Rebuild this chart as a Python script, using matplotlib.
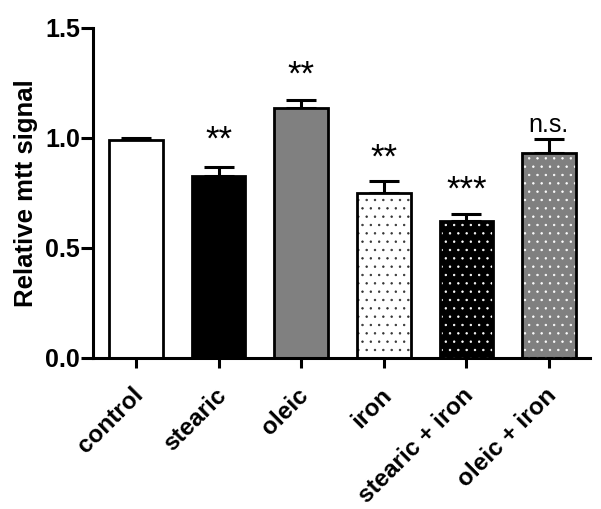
import matplotlib
matplotlib.use('Agg')
import matplotlib.pyplot as plt
import matplotlib.transforms as mtransforms

plt.rcParams['font.family'] = ['Liberation Sans', 'DejaVu Sans']
plt.rcParams['hatch.linewidth'] = 0.5

groups = ['control', 'stearic', 'oleic', 'iron', 'stearic + iron', 'oleic + iron']
means = [0.99, 0.825, 1.135, 0.75, 0.62, 0.932]
errors = [0.01, 0.045, 0.037, 0.052, 0.032, 0.063]
signif = ['', '**', '**', '**', '***', 'n.s.']
sig_y = [None, 0.99, 1.285, 0.91, 0.765, 1.06]

face_colors = ['white', 'black', '#808080', 'white', 'black', '#808080']
dot_colors = [None, None, None, '#333333', 'white', 'white']

fig = plt.figure(figsize=(6.01, 5.09), dpi=100)
ax = fig.add_axes([0.155, 0.297, 0.827, 0.648])

x = list(range(len(groups)))
w = 0.65
ax.bar(x, means, width=w, color=face_colors, edgecolor='black', linewidth=0, zorder=2)
for i, dc in enumerate(dot_colors):
    if dc is not None:
        ax.bar(x[i], means[i], width=w, fill=False, edgecolor=dc, hatch='..',
               linewidth=0, zorder=3)
ax.bar(x, means, width=w, fill=False, edgecolor='black', linewidth=2.0, zorder=4)
ax.errorbar(x, means, yerr=[[0] * len(errors), errors], fmt='none', ecolor='black',
            elinewidth=2.2, capsize=11, capthick=2.2, zorder=1)

for i, s in enumerate(signif):
    if s:
        size = 18 if s == 'n.s.' else 25
        ax.text(x[i], sig_y[i], s, ha='center', va='center', fontsize=size)

ax.set_xlim(-0.52, 5.5)
ax.set_ylim(0, 1.5)
ax.set_yticks([0.0, 0.5, 1.0, 1.5])
ax.set_yticklabels(['0.0', '0.5', '1.0', '1.5'], fontsize=18, fontweight='bold')
ax.set_xticks(x)
ax.set_xticklabels(groups, rotation=45, ha='right', rotation_mode='anchor',
                   fontsize=17.5, fontweight='bold')
ax.set_ylabel('Relative mtt signal', fontsize=18.5, fontweight='bold', labelpad=5)

for side in ['top', 'right']:
    ax.spines[side].set_visible(False)
for side in ['left', 'bottom']:
    ax.spines[side].set_linewidth(2.2)
ax.tick_params(axis='x', direction='out', length=7, width=2.2, pad=11.5)
ax.tick_params(axis='y', direction='out', length=9, width=2.2, pad=0.5)

# nudge the rotated category labels a little to the left
shift = mtransforms.ScaledTranslation(-3 / 72, 0, fig.dpi_scale_trans)
for lbl in ax.get_xticklabels():
    lbl.set_transform(lbl.get_transform() + shift)

fig.savefig('out.png', dpi=100)
